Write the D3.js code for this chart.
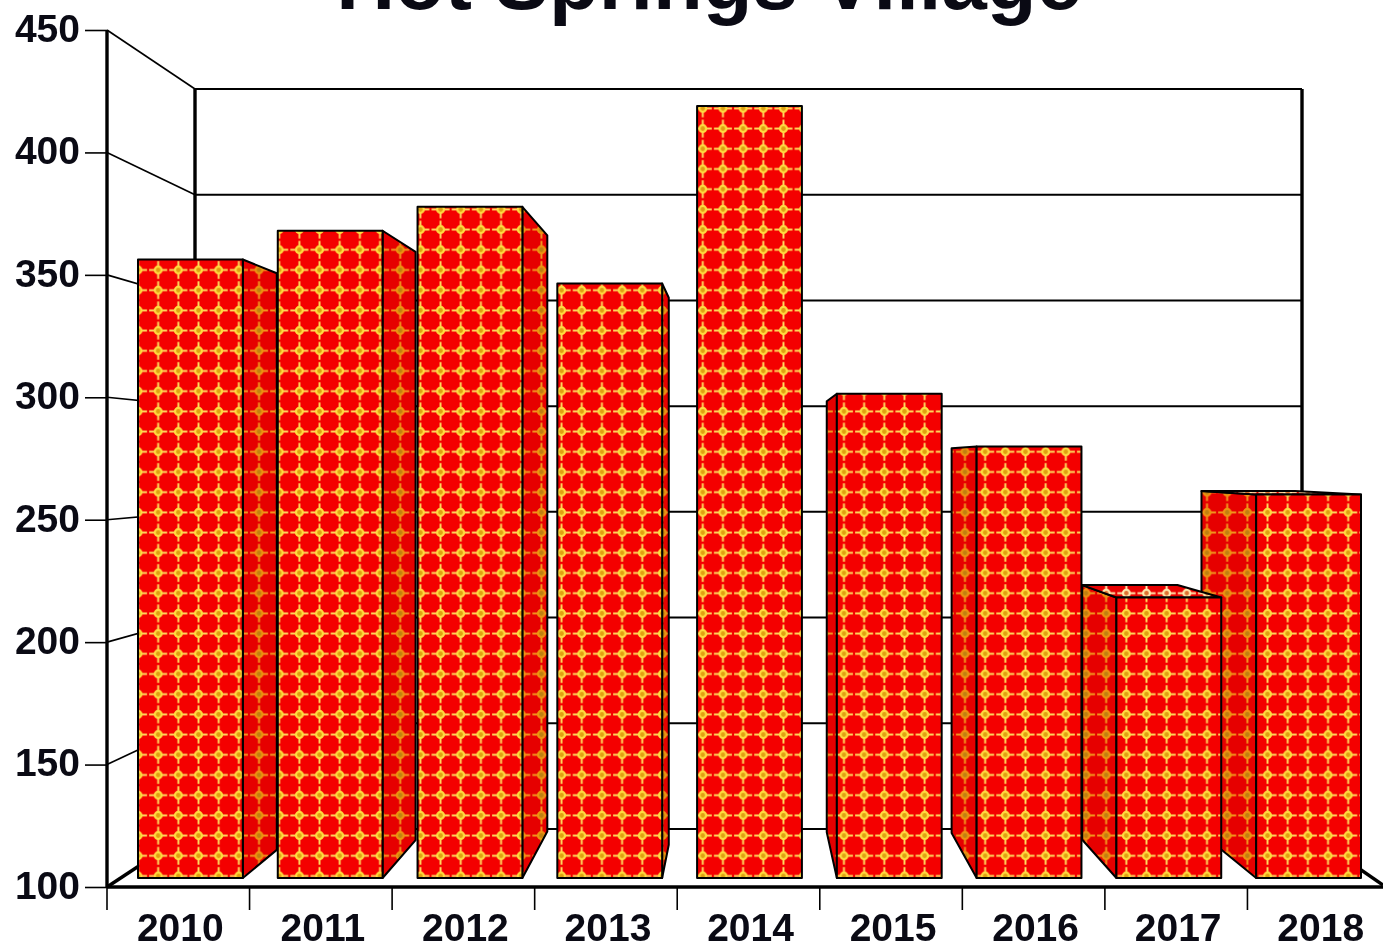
<!DOCTYPE html>
<html><head><meta charset="utf-8">
<script src="https://cdnjs.cloudflare.com/ajax/libs/d3/7.8.5/d3.min.js"></script>
<style>html,body{margin:0;background:#fff}svg{display:block;filter:blur(0.4px)}text{font-family:"Liberation Sans",Arial,sans-serif;font-weight:bold;fill:#0a0a14}</style>
</head><body><script>
const years = ["2010","2011","2012","2013","2014","2015","2016","2017","2018"];
const values = [358,370,380,348,422,302,280,217,260];
const yTicks = [100,150,200,250,300,350,400,450];
const titleText = "Hot Springs Village";

const W=1383,H=947;
const depth=[.0676,.091,.112,.08,0,.11,.108,.092,.107];
const vp=[745,462];
const svg=d3.select("body").append("svg").attr("width",W).attr("height",H);
const yFront=d3.scaleLinear().domain([100,450]).range([887,30]);
const yBack=d3.scaleLinear().domain([100,450]).range([829,89]);
const yBar=d3.scaleLinear().domain([100,450]).range([878,39]);
const xBar=d3.scaleBand().domain(years).range([138,1361]).paddingInner(.25).paddingOuter(0);
const xFront=d3.scaleBand().domain(years).range([109,1392]);

function pattern(id,bg,arm,ring,core){
  const p=svg.append("defs").append("pattern").attr("id",id).attr("patternUnits","userSpaceOnUse")
    .attr("x",148.1).attr("y",259.9).attr("width",20.17).attr("height",20.2);
  const c=[10.085,10.1];
  p.append("rect").attr("width",20.17).attr("height",20.2).attr("fill",bg);
  p.append("path").attr("d",`M${c[0]-9} ${c[1]}H${c[0]+9}M${c[0]} ${c[1]-9}V${c[1]+9}`).attr("stroke",arm).attr("stroke-width",1.9);
  p.append("circle").attr("cx",c[0]).attr("cy",c[1]).attr("r",3.4).attr("fill",core).attr("stroke",ring).attr("stroke-width",2.2);
}
pattern("front","#f40000","#ffdf60","#ffdc40","#e0a010");
pattern("side","#e60000","#f29c20","#ee9210","#c08010");
pattern("top","#e80000","#ffeeb0","#ffeeb0","#e07030");

// back wall and grid
const wall=svg.append("g").attr("stroke","#000").attr("fill","none");
wall.selectAll("line.g").data(yTicks).join("line").attr("class","g")
  .attr("x1",195).attr("x2",1302).attr("y1",d=>yBack(d)).attr("y2",d=>yBack(d)).attr("stroke-width",2);
wall.selectAll("line.d").data(yTicks).join("line").attr("class","d")
  .attr("x1",107).attr("x2",195).attr("y1",d=>yFront(d)).attr("y2",d=>yBack(d)).attr("stroke-width",d=>d===100?3.4:1.6);
wall.append("line").attr("x1",195).attr("x2",195).attr("y1",yBack(450)).attr("y2",yBack(100)).attr("stroke-width",3.4);
wall.append("line").attr("x1",1302).attr("x2",1302).attr("y1",yBack(450)).attr("y2",yBack(100)).attr("stroke-width",3.4);
wall.append("line").attr("x1",1302).attr("x2",1383).attr("y1",yBack(100)).attr("y2",885).attr("stroke-width",3.4);

// bars
const P=(x,y,t)=>[x+(vp[0]-x)*t,y+(vp[1]-y)*t];
const order=[8,7,6,5,0,1,2,3,4];
const bars=svg.append("g").attr("stroke","#000").attr("stroke-width",2).attr("stroke-linejoin","round");
order.forEach(i=>{
  const x0=xBar(years[i]),x1=x0+xBar.bandwidth(),yt=yBar(values[i]),yb=yBar(100),t=depth[i];
  if(t>0){
    const xs=x1<vp[0]?x1:x0;
    bars.append("polygon").attr("fill","url(#side)")
      .attr("points",[[xs,yt],P(xs,yt,t),P(xs,yb,t),[xs,yb]].join(" "));
    if(yt>vp[1]) bars.append("polygon").attr("fill","url(#top)")
      .attr("points",[[x0,yt],[x1,yt],P(x1,yt,t),P(x0,yt,t)].join(" "));
  }
  bars.append("rect").attr("x",x0).attr("y",yt).attr("width",xBar.bandwidth()).attr("height",yb-yt).attr("fill","url(#front)");
});

// axes
const ay=svg.append("g").attr("transform","translate(107,0)").call(d3.axisLeft(yFront).tickValues(yTicks).tickFormat(d3.format("d")).tickSize(22).tickPadding(5));
ay.select(".domain").attr("stroke","#000").attr("stroke-width",3.4).attr("d",`M0,${yFront(450)}V${yFront(100)}`);
ay.selectAll("line").attr("stroke","#000").attr("stroke-width",1.6);
ay.selectAll("text").attr("font-size",39).attr("dy","0.29em").attr("x",-27);
const ax=svg.append("g").attr("transform","translate(0,887)").call(d3.axisBottom(xFront).tickSize(0).tickPadding(26));
ax.select(".domain").attr("stroke","#000").attr("stroke-width",3.6).attr("d","M107,0H1383");
ax.selectAll("text").attr("font-size",39);
svg.append("g").selectAll("line").data(years).join("line")
  .attr("x1",d=>xFront(d)-2).attr("x2",d=>xFront(d)-2).attr("y1",887).attr("y2",910).attr("stroke","#000").attr("stroke-width",1.6);

svg.append("text").attr("x",709).attr("y",9).attr("text-anchor","middle").attr("font-size",81.5).text(titleText);
</script></body></html>
